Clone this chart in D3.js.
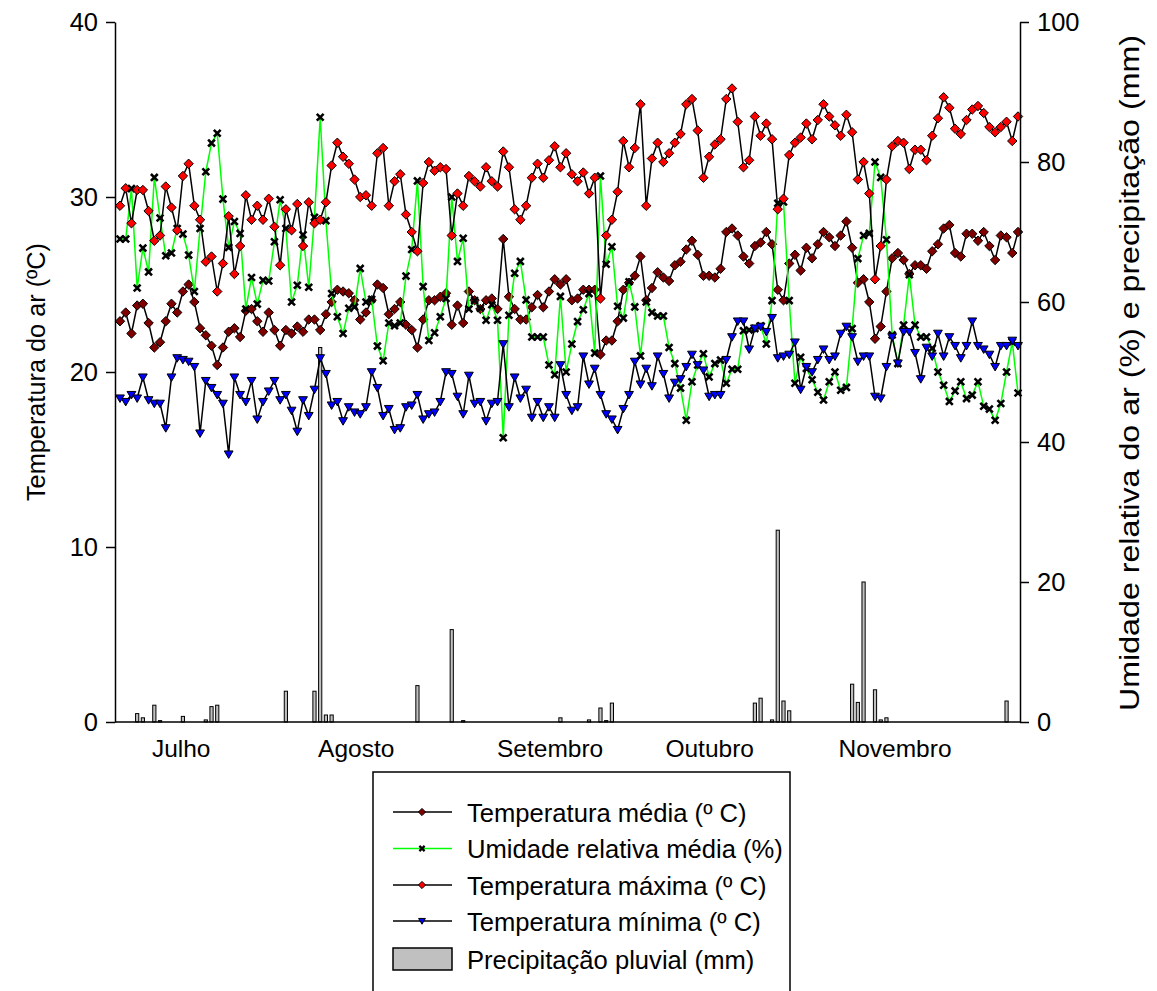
<!DOCTYPE html>
<html><head><meta charset="utf-8">
<script src="https://cdn.jsdelivr.net/npm/d3@7"></script>
<style>body{margin:0;background:#fff} svg{display:block} text{font-family:"Liberation Sans",Arial,sans-serif;fill:#000}</style>
</head><body><svg id="c" width="1157" height="991"></svg>
<script>
// ---- data (one value per day, starting 1 July) ----
const tMean = [
22.9,23.4,22.2,23.8,23.9,22.8,21.4,21.7,22.9,23.9,
23.4,24.6,25.0,24.0,22.5,22.1,21.5,20.4,21.4,22.3,
22.5,22.0,23.5,23.6,22.9,22.3,23.4,22.4,21.5,22.4,
22.2,22.6,22.3,23.0,23.0,22.4,23.3,24.0,24.7,24.6,
24.5,24.1,23.0,23.4,24.1,25.0,24.8,23.3,23.6,24.0,
22.7,22.4,21.4,23.0,24.1,24.1,24.3,24.5,22.7,23.8,
22.8,24.6,24.1,23.6,24.1,24.2,23.6,27.6,24.3,23.6,
23.0,23.0,23.7,24.4,23.7,24.6,25.3,25.0,25.3,24.1,
24.2,24.7,24.7,24.7,21.0,21.8,21.8,22.9,24.7,25.1,
25.5,26.6,24.1,24.8,25.7,25.4,25.2,26.1,26.3,27.0,
27.5,26.7,25.5,25.5,25.4,25.9,28.0,28.2,27.8,26.6,
26.2,27.2,27.4,28.0,27.3,24.7,24.1,26.2,26.7,25.8,
27.1,26.5,27.3,28.0,27.7,27.2,27.8,28.6,27.1,25.1,
25.3,24.0,21.9,22.6,24.6,26.5,26.8,26.4,25.6,26.1,
26.1,25.9,26.9,27.3,28.2,28.4,26.8,26.6,27.9,27.9,
27.5,28.0,27.2,26.4,27.8,27.7,26.8,28.0];
const humidity = [
69.0,69.0,76.2,62.0,67.7,64.3,77.8,72.0,66.6,67.0,
70.5,69.7,66.7,61.5,70.5,78.6,82.7,84.1,74.7,67.8,
71.5,69.8,59.0,63.5,59.7,63.1,63.0,68.6,74.6,70.5,
60.0,62.4,69.6,62.1,72.1,86.4,71.6,61.2,57.9,55.5,
59.1,59.3,64.8,60.0,60.4,53.7,51.6,57.0,56.6,57.0,
63.7,67.5,77.3,62.2,54.5,55.6,57.9,60.5,75.0,65.8,
69.1,59.0,60.2,59.1,57.4,59.6,57.4,40.6,58.1,64.1,
65.8,60.3,55.0,55.0,55.0,51.0,49.6,60.8,50.0,54.0,
57.2,58.9,61.2,52.7,78.0,65.4,67.9,59.4,57.7,62.9,
59.3,52.3,60.0,58.5,58.0,58.0,53.5,51.2,47.7,43.1,
48.6,51.0,52.6,49.3,51.2,51.7,48.4,50.4,50.4,55.9,
56.0,56.2,56.6,54.0,60.2,74.1,74.3,60.2,48.4,52.1,
50.5,48.9,47.1,46.0,48.6,50.0,47.4,47.8,56.2,66.2,
69.5,69.8,80.0,77.8,68.9,55.3,51.2,56.7,63.9,56.7,
55.0,55.0,53.4,50.0,48.1,45.8,47.3,48.6,46.2,46.7,
48.6,45.1,44.7,43.1,45.5,50.0,54.3,47.0];
const tMax = [
29.5,30.5,28.5,30.4,30.4,29.2,27.5,27.8,30.6,29.4,
28.1,31.2,31.9,29.5,28.7,26.3,26.6,24.6,26.2,28.9,
25.6,27.2,30.1,28.7,29.5,28.7,29.9,28.3,26.1,29.3,
28.1,29.6,27.2,29.7,28.5,28.7,29.7,31.8,33.1,32.3,
31.9,31.0,30.0,30.1,29.5,32.5,32.8,29.5,30.9,31.3,
29.0,28.0,26.9,30.8,32.0,31.5,31.7,31.6,27.8,30.2,
29.5,31.2,30.9,30.6,31.7,30.9,30.6,32.6,31.7,29.3,
28.7,29.5,31.1,31.9,31.1,32.1,32.9,31.7,32.5,31.3,
30.9,31.4,30.2,31.1,24.2,27.8,28.7,30.3,33.2,31.7,
32.8,35.3,29.5,32.2,33.1,32.0,32.5,33.1,33.6,35.3,
35.6,33.8,31.1,32.3,33.0,33.3,35.6,36.2,34.3,31.7,
32.1,34.6,33.5,34.2,33.3,29.3,29.9,32.4,33.1,33.4,
34.2,33.3,34.4,35.3,34.6,34.1,33.5,34.7,33.7,31.0,
32.0,30.2,25.3,27.2,31.0,32.9,33.2,33.1,31.6,32.7,
32.7,32.1,33.5,34.5,35.7,35.1,33.9,33.6,34.4,35.0,
35.2,34.8,34.0,33.7,34.0,34.3,33.2,34.6];
const tMin = [
18.5,18.3,18.7,18.5,19.7,18.4,18.2,18.2,16.8,19.7,
20.8,20.7,20.6,20.3,16.5,19.5,19.1,18.7,18.2,15.3,
19.7,18.7,18.3,19.5,17.3,18.3,18.9,19.5,18.4,18.7,
17.8,16.6,18.4,17.5,19.0,20.8,19.9,18.1,18.3,17.2,
18.0,17.7,17.6,18.0,20.0,19.1,17.5,17.9,16.7,16.8,
18.0,18.1,18.7,17.3,17.6,17.7,18.3,20.0,19.9,18.6,
17.6,19.8,18.2,18.3,17.2,18.2,18.3,21.6,18.0,19.7,
18.5,19.0,17.4,18.3,17.4,18.0,17.4,20.4,18.7,17.8,
18.0,20.9,19.3,20.2,18.7,17.6,17.3,16.7,17.9,18.7,
20.6,19.3,20.2,19.2,20.9,19.9,18.5,19.4,19.6,20.3,
21.0,20.4,20.1,18.6,18.7,18.7,20.7,22.0,22.9,22.9,
21.3,22.5,22.6,22.3,23.1,20.8,20.9,21.0,21.7,19.0,
20.3,20.0,20.7,21.3,20.7,20.9,22.2,22.6,22.0,20.6,
20.9,20.9,18.6,18.5,20.3,22.0,20.5,22.3,22.3,21.1,
19.6,21.4,20.9,22.2,20.9,22.0,21.5,20.8,21.5,22.9,
21.5,21.3,21.0,20.3,21.5,21.5,21.8,21.5];
const precipitation = [
0,0,0,1.2,0.6,0,2.4,0.2,0,0,
0,0.8,0,0,0,0.3,2.2,2.4,0,0,
0,0,0,0,0,0,0,0,0,4.4,
0,0,0,0,4.4,53.5,1.0,1.0,0,0,
0,0,0,0,0,0,0,0,0,0,
0,0,5.2,0,0,0,0,0,13.2,0,
0.2,0,0,0,0,0,0,0,0,0,
0,0,0,0,0,0,0,0.6,0,0,
0,0,0.3,0,2.0,0.2,2.7,0,0,0,
0,0,0,0,0,0,0,0,0,0,
0,0,0,0,0,0,0,0,0,0,
0,2.7,3.4,0,0.3,27.4,3.0,1.6,0,0,
0,0,0,0,0,0,0,0,5.4,2.8,
20.0,0,4.6,0.3,0.6,0,0,0,0,0,
0,0,0,0,0,0,0,0,0,0,
0,0,0,0,0,3.0,0,0];
const monthLabels = ["Julho","Agosto","Setembro","Outubro","Novembro"];
const monthLabelDays = [10.7,41.3,75.2,103.1,135.5];
const leftTicks = [0,10,20,30,40];
const rightTicks = [0,20,40,60,80,100];
const legendLabels = ["Temperatura média (º C)","Umidade relativa média (%)","Temperatura máxima (º C)","Temperatura mínima (º C)","Precipitação pluvial (mm)"];

// ---- chart ----
const svg = d3.select("#c");
const nDays = tMean.length;
const x = d3.scaleLinear().domain([0, nDays - 1]).range([120, 1018]);
const yL = d3.scaleLinear().domain([0, 40]).range([722, 22]);
const yR = d3.scaleLinear().domain([0, 100]).range([722, 22]);

// precipitation bars
const bw = 3.2;
svg.append("g").selectAll("rect")
  .data(precipitation.map((v,i)=>({i,v})).filter(d=>d.v>0))
  .join("rect")
  .attr("x", d=>x(d.i)-bw/2).attr("width", bw)
  .attr("y", d=>yR(d.v)).attr("height", d=>yR(0)-yR(d.v))
  .attr("fill","#c0c0c0").attr("stroke","#000").attr("stroke-width",1);

const diamond = r => `M0,${-r}L${r},0L0,${r}L${-r},0Z`;
const triDown = s => `M${-s},${-s*0.75}L${s},${-s*0.75}L0,${s*0.95}Z`;
const cross = s => `M${-s},${-s}L${s},${s}M${-s},${s}L${s},${-s}`;

function series(vals, yScale, lineColor, markerPath, fill, isCross){
  const g = svg.append("g");
  g.append("path").datum(vals)
    .attr("d", d3.line().x((d,i)=>x(i)).y(d=>yScale(d)))
    .attr("fill","none").attr("stroke",lineColor).attr("stroke-width",1.5);
  g.selectAll("path.m").data(vals).join("path").attr("class","m")
    .attr("transform",(d,i)=>`translate(${x(i)},${yScale(d)})`)
    .attr("d", markerPath)
    .attr("fill", isCross ? "none" : fill)
    .attr("stroke","#000")
    .attr("stroke-width", isCross ? 2.6 : 1);
}
series(tMean, yL, "#000", diamond(4.7), "#800000", false);
series(humidity, yR, "#00ff00", cross(3.4), null, true);
series(tMax, yL, "#000", diamond(4.7), "#ff0000", false);
series(tMin, yL, "#000", triDown(4.4), "#0000ff", false);

// axes
const axL = svg.append("g").attr("transform","translate(115,0)")
  .call(d3.axisLeft(yL).tickValues(leftTicks).tickSize(9).tickSizeOuter(0).tickPadding(8));
const axR = svg.append("g").attr("transform","translate(1020,0)")
  .call(d3.axisRight(yR).tickValues(rightTicks).tickSize(9).tickSizeOuter(0).tickPadding(8));
[axL, axR].forEach(a=>{
  a.selectAll("path,line").attr("stroke","#000").attr("stroke-width",1.5);
  a.selectAll("text").attr("font-size",25.5).attr("font-family","Liberation Sans, Arial, sans-serif").attr("fill","#000");
});
svg.append("line").attr("x1",115).attr("x2",1020).attr("y1",yL(0)).attr("y2",yL(0))
  .attr("stroke","#000").attr("stroke-width",1.5);

// month labels
svg.append("g").selectAll("text").data(monthLabels).join("text")
  .attr("x",(d,i)=>x(monthLabelDays[i])).attr("y",757)
  .attr("text-anchor","middle").attr("font-size",24.5).text(d=>d);

// axis titles
svg.append("text").attr("transform","translate(45,372) rotate(-90)")
  .attr("text-anchor","middle").attr("font-size",25.3).text("Temperatura do ar (ºC)");
svg.append("text").attr("transform","translate(1139,373) rotate(-90)")
  .attr("text-anchor","middle").attr("font-size",27)
  .attr("textLength",676).attr("lengthAdjust","spacingAndGlyphs")
  .text("Umidade relativa do ar (%) e precipitação (mm)");

// legend
const lg = svg.append("g");
lg.append("rect").attr("x",373).attr("y",772).attr("width",417).attr("height",260)
  .attr("fill","#fff").attr("stroke","#000").attr("stroke-width",1.5);
const rowY = [812,848.5,885,921,959];
const legStyles = [
  {line:"#000", m:diamond(3.6), fill:"#800000", cross:false},
  {line:"#00ff00", m:cross(2.6), fill:null, cross:true},
  {line:"#000", m:diamond(3.6), fill:"#ff0000", cross:false},
  {line:"#000", m:triDown(3.4), fill:"#0000ff", cross:false}
];
legStyles.forEach((s,i)=>{
  lg.append("line").attr("x1",393).attr("x2",452).attr("y1",rowY[i]).attr("y2",rowY[i])
    .attr("stroke",s.line).attr("stroke-width",1.5);
  lg.append("path").attr("transform",`translate(422,${rowY[i]})`).attr("d",s.m)
    .attr("fill",s.cross?"none":s.fill).attr("stroke","#000").attr("stroke-width",s.cross?2.2:1);
});
lg.append("rect").attr("x",393).attr("y",rowY[4]-11).attr("width",59).attr("height",22)
  .attr("fill","#c0c0c0").attr("stroke","#000").attr("stroke-width",1.5);
lg.selectAll("text.l").data(legendLabels).join("text").attr("class","l")
  .attr("x",467).attr("y",(d,i)=>rowY[i]+9.5).attr("font-size",25.6).text(d=>d);
</script>
</body></html>
